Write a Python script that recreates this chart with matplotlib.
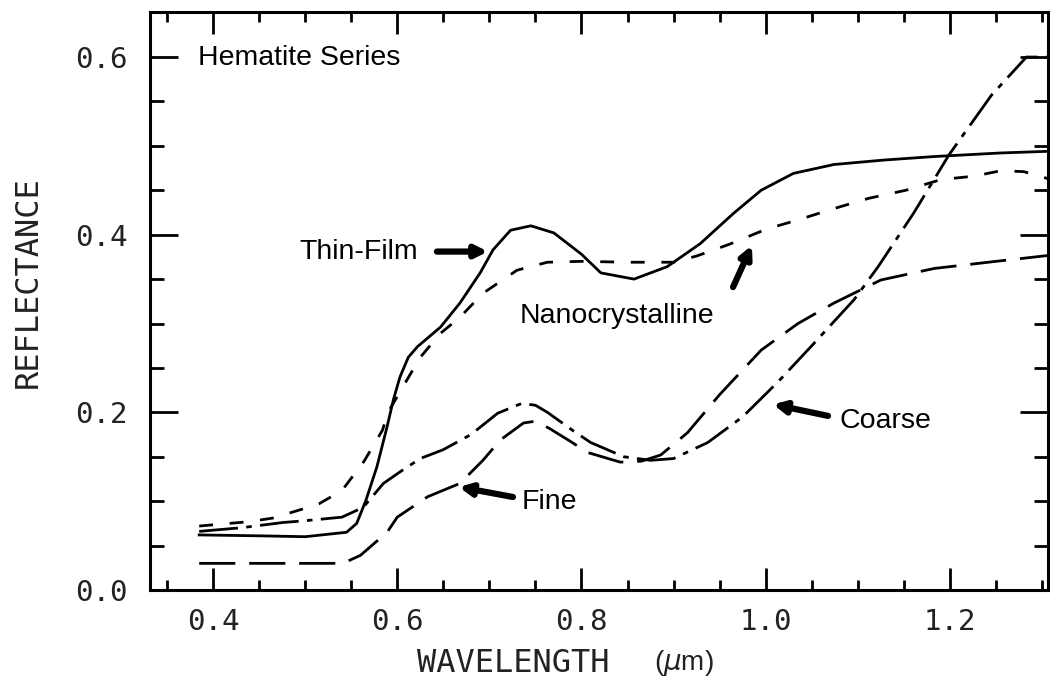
import matplotlib
matplotlib.use("Agg")
import matplotlib.pyplot as plt
import numpy as np

plt.rcParams["lines.scale_dashes"] = False
plt.rcParams["font.family"] = "Liberation Sans"

# spectra (wavelength in um, reflectance)
thin_x = [0.385, 0.45, 0.50, 0.545, 0.556, 0.566, 0.578, 0.589, 0.596, 0.603, 0.612,
          0.622, 0.647, 0.668, 0.69, 0.704, 0.723, 0.745, 0.77, 0.80, 0.821, 0.857,
          0.893, 0.929, 0.965, 0.995, 1.03, 1.074, 1.128, 1.183, 1.255, 1.31]
thin_y = [0.062, 0.061, 0.060, 0.065, 0.075, 0.101, 0.139, 0.184, 0.215, 0.240, 0.262,
          0.274, 0.296, 0.323, 0.357, 0.383, 0.405, 0.410, 0.402, 0.378, 0.357, 0.350,
          0.364, 0.390, 0.424, 0.450, 0.469, 0.479, 0.484, 0.488, 0.492, 0.494]

nano_x = [0.385, 0.44, 0.465, 0.50, 0.515, 0.54, 0.564, 0.584, 0.59, 0.617, 0.625,
          0.647, 0.668, 0.693, 0.73, 0.763, 0.80, 0.85, 0.90, 0.925, 0.96, 1.00,
          1.036, 1.076, 1.112, 1.152, 1.19, 1.227, 1.255, 1.28, 1.31]
nano_y = [0.072, 0.077, 0.081, 0.092, 0.097, 0.112, 0.145, 0.180, 0.200, 0.248, 0.262,
          0.289, 0.307, 0.334, 0.360, 0.369, 0.370, 0.369, 0.369, 0.376, 0.389, 0.406,
          0.417, 0.430, 0.441, 0.450, 0.462, 0.466, 0.472, 0.471, 0.462]

coarse_x = [0.385, 0.43, 0.476, 0.50, 0.54, 0.563, 0.585, 0.603, 0.625, 0.65, 0.68,
            0.709, 0.735, 0.75, 0.763, 0.79, 0.81, 0.846, 0.875, 0.90, 0.937, 0.975,
            1.013, 1.05, 1.096, 1.122, 1.161, 1.199, 1.245, 1.283, 1.31]
coarse_y = [0.066, 0.070, 0.076, 0.078, 0.082, 0.093, 0.120, 0.133, 0.148, 0.158, 0.175,
            0.199, 0.210, 0.208, 0.200, 0.180, 0.166, 0.150, 0.146, 0.148, 0.166, 0.195,
            0.234, 0.275, 0.327, 0.364, 0.425, 0.490, 0.557, 0.600, 0.600]

fine_x = [0.385, 0.45, 0.541, 0.56, 0.589, 0.60, 0.633, 0.668, 0.693, 0.712, 0.737,
          0.75, 0.765, 0.79, 0.806, 0.842, 0.865, 0.886, 0.915, 0.95, 0.995, 1.035,
          1.074, 1.125, 1.183, 1.25, 1.31]
fine_y = [0.030, 0.030, 0.030, 0.039, 0.065, 0.082, 0.105, 0.120, 0.146, 0.169, 0.188,
          0.190, 0.182, 0.166, 0.155, 0.144, 0.145, 0.152, 0.177, 0.220, 0.270, 0.300,
          0.323, 0.349, 0.362, 0.370, 0.377]

x_ticks = [0.4, 0.6, 0.8, 1.0, 1.2]
y_ticks = [0.0, 0.2, 0.4, 0.6]

fig = plt.figure(figsize=(10.5, 6.79), dpi=100)
ax = fig.add_axes([150 / 1050, 89 / 679, 898 / 1050, 578 / 679])

lw = 2.0
ax.plot(thin_x, thin_y, color="black", lw=lw)
ax.plot(nano_x, nano_y, color="black", lw=lw, dashes=(10, 12))
ax.plot(coarse_x, coarse_y, color="black", lw=lw, dashes=(28, 6, 4, 6))
ax.plot(fine_x, fine_y, color="black", lw=lw, dashes=(26, 10))

ax.set_xlim(0.3316, 1.3064)
ax.set_ylim(0.0, 0.6507)

ax.set_xticks(x_ticks)
ax.set_xticks(np.arange(0.35, 1.31, 0.05), minor=True)
ax.set_yticks(y_ticks)
ax.set_yticks(np.arange(0.05, 0.65, 0.05), minor=True)
ax.set_xticklabels(["%.1f" % v for v in x_ticks])
ax.set_yticklabels(["%.1f" % v for v in y_ticks])

ax.tick_params(axis="x", which="major", direction="in", length=16, width=2,
               top=True, pad=13)
ax.tick_params(axis="x", which="minor", direction="in", length=7, width=2, top=True)
ax.tick_params(axis="y", which="major", direction="in", length=20, width=2,
               right=True, pad=16)
ax.tick_params(axis="y", which="minor", direction="in", length=10, width=2, right=True)
for lab in ax.get_xticklabels() + ax.get_yticklabels():
    lab.set_fontfamily("DejaVu Sans Mono")
    lab.set_fontsize(21)
    lab.set_color("#222222")
for sp in ax.spines.values():
    sp.set_linewidth(2.2)

fs = 20.5
ax.text(0.3837, 0.599, "Hematite Series", fontsize=fs, va="center", ha="left")
ax.text(0.6225, 0.381, "Thin-Film", fontsize=fs, va="center", ha="right")
ax.text(0.7332, 0.3085, "Nanocrystalline", fontsize=fs, va="center", ha="left")
ax.text(1.0806, 0.190, "Coarse", fontsize=fs, va="center", ha="left")
ax.text(0.7354, 0.099, "Fine", fontsize=fs, va="center", ha="left")

arrow = dict(arrowstyle="-|>,head_length=0.7,head_width=0.35", lw=4.5,
             color="black", shrinkA=0, shrinkB=0)
ax.annotate("", xy=(0.6985, 0.381), xytext=(0.643, 0.381), arrowprops=arrow)
ax.annotate("", xy=(0.985, 0.388), xytext=(0.9645, 0.341), arrowprops=arrow)
ax.annotate("", xy=(1.0079, 0.209), xytext=(1.0676, 0.196), arrowprops=arrow)
ax.annotate("", xy=(0.667, 0.116), xytext=(0.7256, 0.1047), arrowprops=arrow)

fig.text(28 / 1050, 1 - 282 / 679, "REFLECTANCE", rotation=90, ha="center", va="center",
         fontsize=23, family="DejaVu Sans Mono", color="#222222")
fig.text(513 / 1050, 1 - 663 / 679, "WAVELENGTH", ha="center", va="center",
         fontsize=23, family="DejaVu Sans Mono", color="#222222")
fig.text(684 / 1050, 1 - 663 / 679, "($\\mu$m)", ha="center", va="center",
         fontsize=20, color="#222222")

fig.savefig("out.png", dpi=100)
